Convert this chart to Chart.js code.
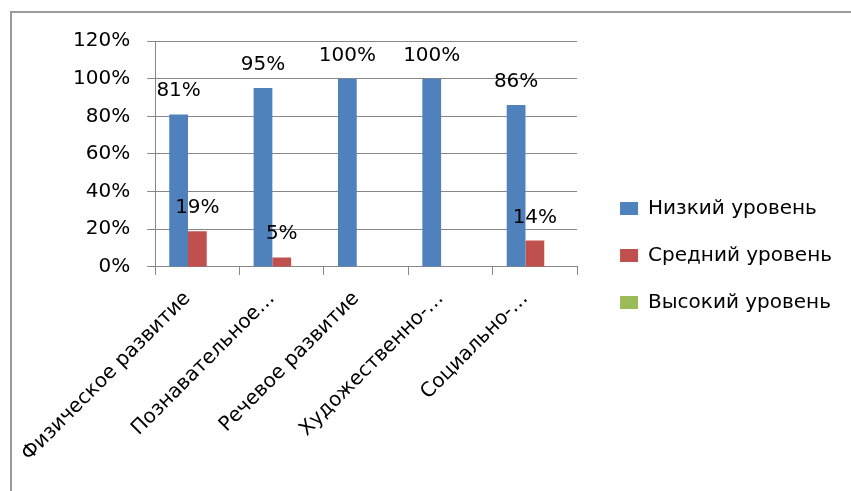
<!DOCTYPE html>
<html>
<head>
<meta charset="utf-8">
<script src="https://cdn.jsdelivr.net/npm/chart.js@4/dist/chart.umd.min.js"></script>
<style>
  html, body { margin: 0; padding: 0; background: #fff; overflow: hidden; }
  #frame { position: absolute; left: 10px; top: 11px; width: 900px; height: 600px; border: 2px solid #9a9a9a; }
  #chart { position: absolute; left: 0; top: 0; }
</style>
</head>
<body>
<div id="frame"></div>
<canvas id="chart" width="851" height="491"></canvas>
<script>
const categories = ["Физическое развитие", "Познавательное…", "Речевое развитие", "Художественно-…", "Социально-…"]
const lowLevel = [81, 95, 100, 100, 86]
const midLevel = [19, 5, 0, 0, 14]
const highLevel = [0, 0, 0, 0, 0]
const seriesNames = ["Низкий уровень", "Средний уровень", "Высокий уровень"]
const yTicks = [0, 20, 40, 60, 80, 100, 120]

const font = { family: '"DejaVu Sans"', size: 20 }
const gridColor = "#878787"

// value labels above the bars, zeros are skipped
const barLabels = {
  id: "barLabels",
  afterDatasetsDraw(chart) {
    const ctx = chart.ctx
    ctx.save()
    ctx.font = '20px "DejaVu Sans"'
    ctx.fillStyle = "#000"
    ctx.textAlign = "center"
    ctx.textBaseline = "alphabetic"
    chart.data.datasets.forEach((ds, i) => {
      chart.getDatasetMeta(i).data.forEach((bar, j) => {
        const v = ds.data[j]
        if (!v) return
        ctx.fillText(v + "%", bar.x, bar.y - 18)
      })
    })
    ctx.restore()
  }
}

// push the legend a bit away from the plot
const legendShift = {
  id: "legendShift",
  afterLayout(chart) {
    chart.legend.left += 16
    chart.legend.right += 16
    chart.legend.top -= 4
    chart.legend.bottom -= 4
  }
}

/* eslint-disable no-undef */
new Chart(document.getElementById("chart"), {
  type: "bar",
  data: {
    labels: categories,
    datasets: [
      { label: seriesNames[0], data: lowLevel, backgroundColor: "#4F81BD" },
      { label: seriesNames[1], data: midLevel, backgroundColor: "#C0504D" },
      { label: seriesNames[2], data: highLevel, backgroundColor: "#9BBB59" }
    ]
  },
  plugins: [barLabels, legendShift],
  options: {
    responsive: false,
    animation: false,
    devicePixelRatio: 1,
    layout: { padding: { left: 56, top: 41, right: 25, bottom: 13 } },
    datasets: {
      bar: { categoryPercentage: 0.667, barPercentage: 1, borderWidth: 0 }
    },
    scales: {
      x: {
        grid: { drawOnChartArea: false, drawTicks: true, tickLength: 8, color: gridColor },
        border: { color: gridColor, width: 1 },
        ticks: { font: font, color: "#000", minRotation: 45, maxRotation: 45, autoSkip: false, padding: 12, labelOffset: -10 }
      },
      y: {
        min: 0,
        max: 120,
        afterBuildTicks: axis => { axis.ticks = yTicks.map(v => ({ value: v })) },
        grid: { color: gridColor, tickLength: 8 },
        border: { color: gridColor, width: 1 },
        ticks: { font: font, color: "#000", padding: 17, callback: v => v + "%" }
      }
    },
    plugins: {
      tooltip: { enabled: false },
      legend: {
        position: "right",
        maxWidth: 400,
        labels: { font: font, color: "#000", boxWidth: 18, boxHeight: 13, padding: 27 }
      }
    }
  }
})
</script>
</body>
</html>
